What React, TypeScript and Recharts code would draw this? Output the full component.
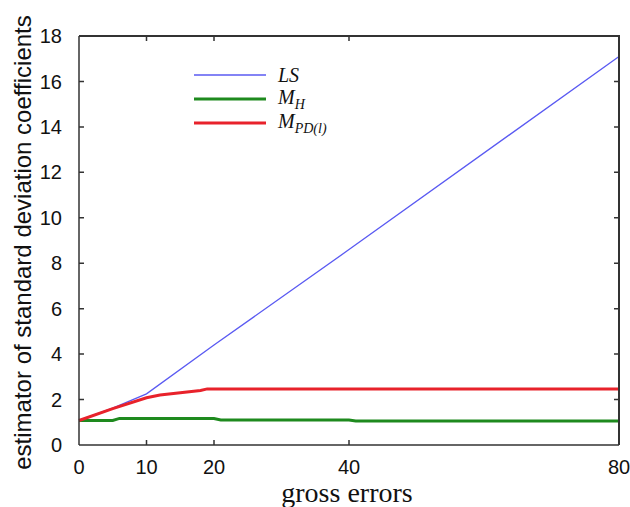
import React from 'react'
import { LineChart, Line, XAxis, YAxis, Legend, Label } from 'recharts'

// gross errors (x) vs estimated std-dev coefficient (y), one pair of arrays per estimator
const lsX = [0, 5, 10, 20, 40, 80]
const lsY = [1.08, 1.62, 2.25, 4.4, 8.6, 17.1]
const mhX = [0, 5, 6, 20, 21, 40, 41, 80]
const mhY = [1.08, 1.08, 1.17, 1.17, 1.1, 1.1, 1.06, 1.06]
const mpdX = [0, 5, 10, 12, 15, 18, 19, 80]
const mpdY = [1.08, 1.6, 2.08, 2.2, 2.3, 2.4, 2.47, 2.47]

const xTicks = [0, 10, 20, 40, 80]
const yTicks = [0, 2, 4, 6, 8, 10, 12, 14, 16, 18]
const xMax = 80
const yMax = 18

const toRows = (xs: number[], ys: number[]) => xs.map((x, i) => ({ x, y: ys[i] }))

// inward tick marks on all four sides, one broken polyline (null = gap)
function tickRows() {
    const rows: { x: number; y: number | null }[] = []
    xTicks.filter(t => t > 0 && t < xMax).forEach(t => {
        rows.push({ x: t, y: 0 }, { x: t, y: 0.22 }, { x: t, y: null })
        rows.push({ x: t, y: yMax }, { x: t, y: yMax - 0.22 }, { x: t, y: null })
    })
    yTicks.filter(t => t > 0 && t < yMax).forEach(t => {
        rows.push({ x: 0, y: t }, { x: 0.74, y: t }, { x: 0, y: null })
        rows.push({ x: xMax, y: t }, { x: xMax - 0.74, y: t }, { x: xMax, y: null })
    })
    return rows
}

const frame = '#333'
const tickFont = { fontFamily: 'Liberation Sans, Arial, sans-serif', fontSize: 20, fill: '#111' }

function LegendBox({ payload }: any) {
    const subs: Record<string, [string, string]> = {
        LS: ['LS', ''],
        MH: ['M', 'H'],
        MPD: ['M', 'PD(l)'],
    }
    return (
        <div style={{ fontFamily: '"Liberation Serif", "Times New Roman", serif', fontStyle: 'italic' }}>
            {(payload || []).filter((p: any) => subs[p.value]).map((p: any) => (
                <div key={p.value} style={{ display: 'flex', alignItems: 'center', height: 24 }}>
                    <svg width={72} height={6}>
                        <line x1={0} x2={72} y1={3} y2={3} stroke={p.color} strokeWidth={p.value === 'LS' ? 1.3 : 3} />
                    </svg>
                    <span style={{ marginLeft: 12, fontSize: 20, color: '#111', lineHeight: '18px' }}>
                        {subs[p.value][0]}
                        {subs[p.value][1] && <sub style={{ fontSize: 14, lineHeight: '12px' }}>{subs[p.value][1]}</sub>}
                    </span>
                </div>
            ))}
        </div>
    )
}

export default function App() {
    return (
        <div style={{ position: 'absolute', left: 0, top: 0, width: 630, height: 507, background: '#fff' }}>
            <LineChart width={630} height={507} margin={{ top: 36, right: 11, bottom: 12, left: 0 }}>
                <XAxis
                    dataKey="x" type="number" domain={[0, xMax]} ticks={xTicks}
                    height={50} tickLine={false} tickMargin={9} tick={tickFont}
                    stroke={frame} strokeWidth={1.5} allowDuplicatedCategory={false}
                >
                    <Label
                        content={({ viewBox }: any) => (
                            <text x={viewBox.x + viewBox.width / 2 - 2} y={502} textAnchor="middle"
                                fontFamily='"Liberation Serif", "Times New Roman", serif' fontSize={28} fill="#111">
                                gross errors
                            </text>
                        )}
                    />
                </XAxis>
                <YAxis
                    type="number" domain={[0, yMax]} ticks={yTicks} width={79}
                    tickLine={false} tickMargin={11} tick={tickFont} stroke={frame} strokeWidth={1.5}
                >
                    <Label
                        content={({ viewBox }: any) => {
                            const cx = 31
                            const cy = viewBox.y + viewBox.height / 2 + 2
                            return (
                                <text x={cx} y={cy} transform={`rotate(-90 ${cx} ${cy})`} textAnchor="middle"
                                    fontFamily="Liberation Sans, Arial, sans-serif" fontSize={24} fill="#111">
                                    estimator of standard deviation coefficients
                                </text>
                            )
                        }}
                    />
                </YAxis>
                <Legend
                    layout="vertical" verticalAlign="middle" align="center"
                    wrapperStyle={{ position: 'absolute', left: 194, top: 63, width: 180 }}
                    content={LegendBox}
                />
                <Line data={tickRows()} dataKey="y" name="ticks" legendType="none" connectNulls={false}
                    stroke={frame} strokeWidth={1.5} dot={false} activeDot={false} isAnimationActive={false} />
                <Line data={toRows(lsX, lsY)} dataKey="y" name="LS"
                    stroke="#5a5af2" strokeWidth={1.3} dot={false} isAnimationActive={false} />
                <Line data={toRows(mhX, mhY)} dataKey="y" name="MH"
                    stroke="#1e8a1e" strokeWidth={3} dot={false} isAnimationActive={false} />
                <Line data={toRows(mpdX, mpdY)} dataKey="y" name="MPD"
                    stroke="#e8222b" strokeWidth={3} dot={false} isAnimationActive={false} />
            </LineChart>
            {/* top and right edges of the plot box, laid over the chart */}
            <div style={{
                position: 'absolute', left: 79, top: 35, width: 541, height: 410, zIndex: 5,
                pointerEvents: 'none', boxSizing: 'border-box',
                borderTop: `2px solid ${frame}`, borderRight: `2px solid ${frame}`,
            }} />
        </div>
    )
}
